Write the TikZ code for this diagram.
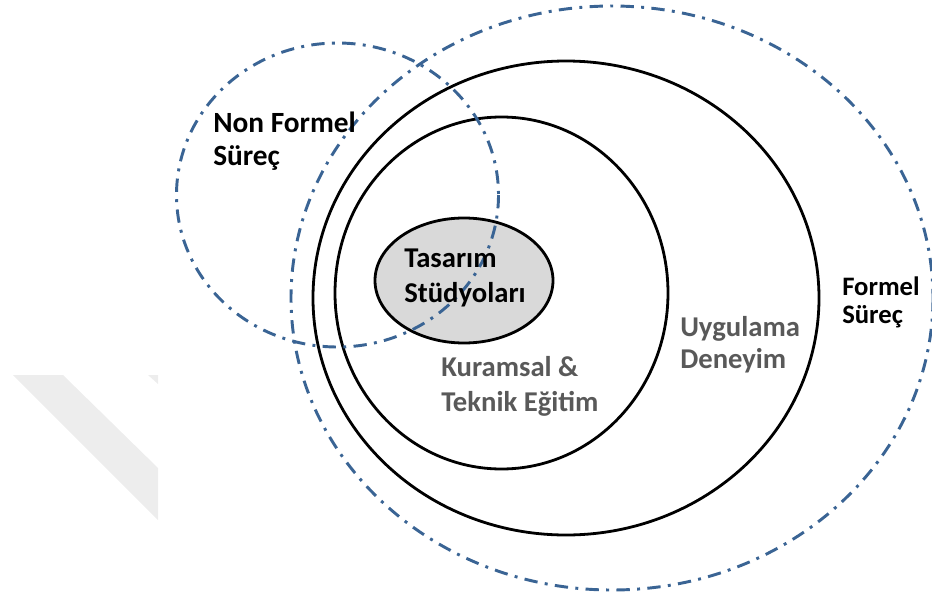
\documentclass[tikz,border=0pt]{standalone}
\usepackage{fontspec}
\setmainfont{Carlito}
\begin{document}
\begin{tikzpicture}[x=0.75pt,y=-0.75pt,
  process/.style={draw=procblue,line width=2.2pt,
    dash pattern=on 10pt off 5.5pt on 2.2pt off 5.5pt},
  ring/.style={draw=black,line width=2.1pt},
  lbl/.style={anchor=base west,inner sep=0pt,font=\bfseries\fontsize{21.5}{26}\selectfont},
  lblgray/.style={lbl,text=labelgray},
  lblsmall/.style={lbl,font=\bfseries\fontsize{20}{24}\selectfont}]
\definecolor{procblue}{HTML}{3A6494}
\definecolor{labelgray}{HTML}{595959}
\definecolor{studiofill}{HTML}{D9D9D9}
\definecolor{bandgray}{HTML}{EDEDED}
\useasboundingbox (0,0) rectangle (932,600);

% faint band in the lower left corner
\fill[bandgray] (13,375) -- (63,375) -- (158,468) -- (158,520) -- cycle;
\fill[bandgray] (148,375) -- (158,375) -- (158,384) -- cycle;

% formal process (outer dash-dot boundary)
\path[process] (612,298) ellipse [x radius=321, y radius=292];
% practice / experience ring
\path[ring] (566,298) ellipse [x radius=253, y radius=237];
% theoretical & technical education ring
\path[ring] (501.5,293) ellipse [x radius=166.5, y radius=176];
% design studios core
\path[ring,fill=studiofill] (464,280.5) ellipse [x radius=89, y radius=62.5];
% non-formal process
\path[process] (337.5,195) ellipse [x radius=161, y radius=152];

% labels
\node[lbl,font=\bfseries\fontsize{22}{26}\selectfont] (nfA) at (213,132) {Non Formel};
\node[lbl,font=\bfseries\fontsize{22}{26}\selectfont] (nfB) at (213,165) {Süreç};
\node[lbl] (tsA) at (404,267) {Tasarım};
\node[lbl] (tsB) at (404,302) {Stüdyoları};
\node[lblgray] (ktA) at (441,376) {Kuramsal \&};
\node[lblgray] (ktB) at (441,411) {Teknik Eğitim};
\node[lblgray] (udA) at (680,336) {Uygulama};
\node[lblgray] (udB) at (680,368) {Deneyim};
\node[lblsmall] (fsA) at (842,295) {Formel};
\node[lblsmall] (fsB) at (842,323) {Süreç};
\end{tikzpicture}
\end{document}
